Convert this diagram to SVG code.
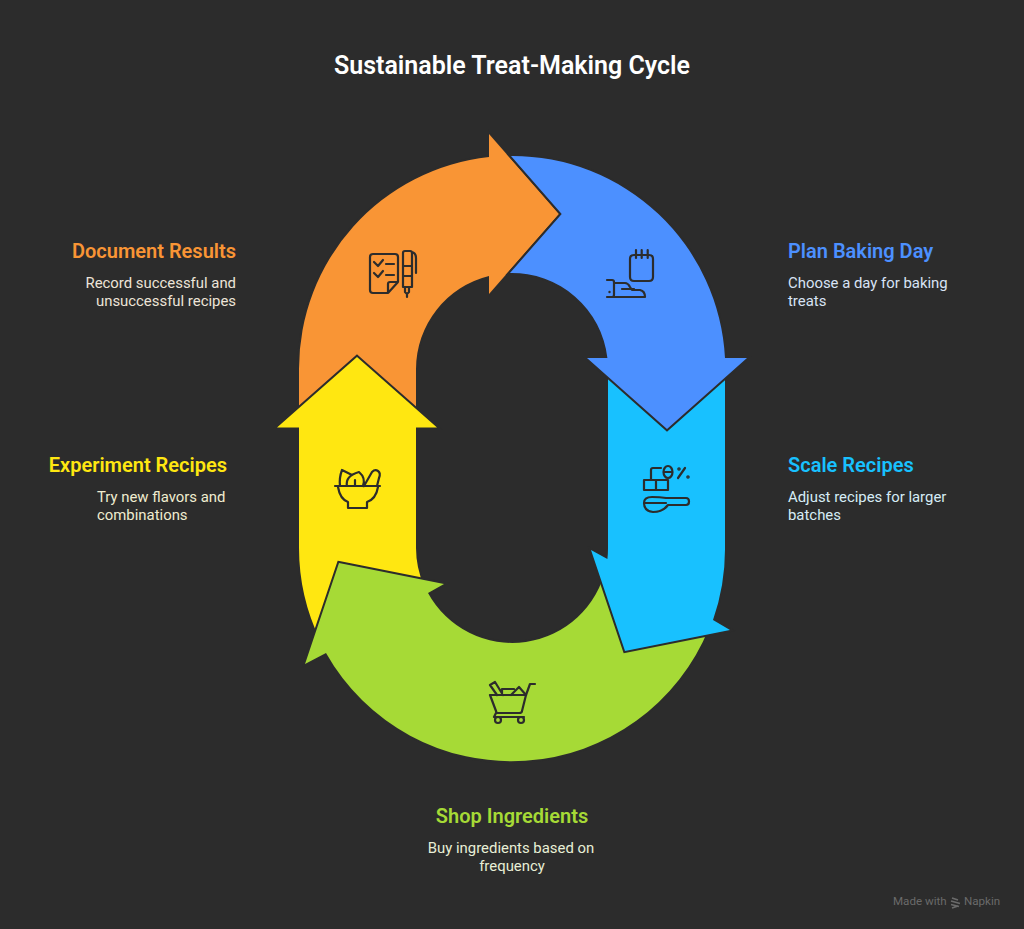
<svg xmlns="http://www.w3.org/2000/svg" width="1024" height="929" viewBox="0 0 1024 929">
<style>
text{font-family:Roboto,"Liberation Sans",sans-serif}
.title{font-size:25px;font-weight:600;fill:#fff;text-anchor:middle}
.h{font-size:20px;font-weight:600}
.d{font-size:14.9px}
.e{text-anchor:end}
.m{text-anchor:middle}
.a{stroke:#2c2c2c;stroke-width:4;paint-order:stroke;stroke-linejoin:miter}
.i{fill:none;stroke:#2c2c2c;stroke-width:2.200;stroke-linecap:round;stroke-linejoin:round}
.b{font-size:11.600px;fill:#6a6a6a}
</style>
<rect width="1024" height="929" fill="#2c2c2c"/>
<text class="title" x="512" y="74">Sustainable Treat-Making Cycle</text>
<g id="connectors">
<path id="arrow-document" class="a" fill="#f99535" d="M489,134L559,214L489,294L489,276A96,96 0 0 0 416,369L416,412L299,412L299,369A213,213 0 0 1 489,157Z"/>
<path id="arrow-experiment" class="a" fill="#ffe711" d="M357,357L437,427.5L416,427.5L416,548A96,96 0 0 0 424,586L320,640A213,213 0 0 1 299,548L299,427.5L277,427.5Z"/>
<path id="arrow-shop" class="a" fill="#a6da36" d="M339,563L444,584L428,593A96,96 0 0 0 606,567.500L709,628A213,213 0 0 1 326,653L305,664Z"/>
<path id="arrow-scale" class="a" fill="#18c1ff" d="M591,550L607.400,559A96,96 0 0 0 608,548L608,374L725,374L725,548A213,213 0 0 1 713,620L730,630L625,651Z"/>
<path id="arrow-plan" class="a" fill="#4c90ff" d="M511,156A213,213 0 0 1 725,358L747,358L667,429L587,358L607.400,358A96,96 0 0 0 510,273L561.700,214Z"/>
</g>
<g id="node-plan">
<path class="i" d="M636,250V258M641.700,250V258M647.700,250V258M634,255H649Q653,255 653,259V277Q653,281 649,281H634Q630,281 630,277V259Q630,255 634,255Z"/>
<path class="i" d="M607,280H612Q614,280 614,282V295Q614,297 612,297H607M614,283H625Q628,283 630,287L632,290H640Q645,291 645,297H614M622,289H634"/>
<circle cx="609.500" cy="292" r="1.200" fill="#2c2c2c"/>
<text class="h" x="788" y="257.500" fill="#4c90ff">Plan Baking Day</text>
<text class="d" fill="#d8e3f5"><tspan x="788" y="288">Choose a day for baking</tspan><tspan x="788" y="306">treats</tspan></text>
</g>
<g id="node-scale">
<path class="i" d="M644,480H656V490H644ZM656,480H668V490H656ZM651,480V470Q651,468 653,468H661"/>
<ellipse class="i" cx="668" cy="472" rx="4.500" ry="6"/>
<path class="i" d="M664,472H672M678,478L685,468"/>
<circle class="i" cx="679" cy="469" r=".7"/><circle class="i" cx="688" cy="477" r=".7"/>
<path class="i" d="M644,503Q644,497 652,497Q660,497 666,498H686Q689,498 689,501.500Q689,505 686,505H668Q663,512 653,512Q644,511 644,503ZM644,503H666"/>
<text class="h" x="788" y="471.500" fill="#18c1ff">Scale Recipes</text>
<text class="d" fill="#d6ecf6"><tspan x="788" y="502">Adjust recipes for larger</tspan><tspan x="788" y="520">batches</tspan></text>
</g>
<g id="node-shop">
<path class="i" d="M490,695H526L522,711Q522,713 519,713H498Q496,713 496,711ZM526,695L530,684H535M496,713L494,717H524"/>
<circle class="i" cx="498" cy="720" r="3"/><circle class="i" cx="521" cy="720" r="3"/>
<path class="i" d="M497,695L490,685L495,682L503,695M502,695V689H514M511,695L519,687L526,695"/>
<text class="h m" x="512" y="822.500" fill="#a6da36">Shop Ingredients</text>
<text class="d m" fill="#e8efd6"><tspan x="511" y="853">Buy ingredients based on</tspan><tspan x="512" y="871">frequency</tspan></text>
</g>
<g id="node-experiment">
<path class="i" d="M335,486H380M338,487Q340,499 348,502V508H367V502Q376,499 378,487"/>
<path class="i" d="M340,486Q339,478 342,470L352,475M347,486Q345,476 359,472Q366,478 363,486M355,480V486M364,486L372,472Q375,469 378,471Q381,473 379,478L377,486"/>
<text class="h e" x="227" y="471.500" fill="#ffe711">Experiment Recipes</text>
<text class="d" fill="#f0ecd0"><tspan x="97" y="502">Try new flavors and</tspan><tspan x="97" y="520">combinations</tspan></text>
</g>
<g id="node-document">
<path class="i" d="M373,254H395Q398,254 398,257V282L388,293H373Q370,293 370,290V257Q370,254 373,254ZM398,282H390Q388,282 388,284V293"/>
<path class="i" d="M374,262L378,266L383,260M386,264H394M374,273L378,277L383,271M386,275H394"/>
<path class="i" d="M405,251H410Q412,251 412,253V287H403V253Q403,251 405,251ZM403,266H412M403,276H412M405,287V292L407,294L409,292V287M407,294V297M412,252Q416,253 416,258V273"/>
<text class="h e" x="236" y="257.500" fill="#f99535">Document Results</text>
<text class="d e" fill="#ece4d8"><tspan x="236" y="288">Record successful and</tspan><tspan x="236" y="306">unsuccessful recipes</tspan></text>
</g>
<g id="brand">
<text class="b" x="893" y="905">Made with</text>
<path d="M952,898L958,900M951,901L960,903.500M951,904.500L959,906.500M952,908L958,906" fill="none" stroke="#6a6a6a" stroke-width="1.800"/>
<text class="b" x="964" y="905">Napkin</text>
</g>
</svg>
